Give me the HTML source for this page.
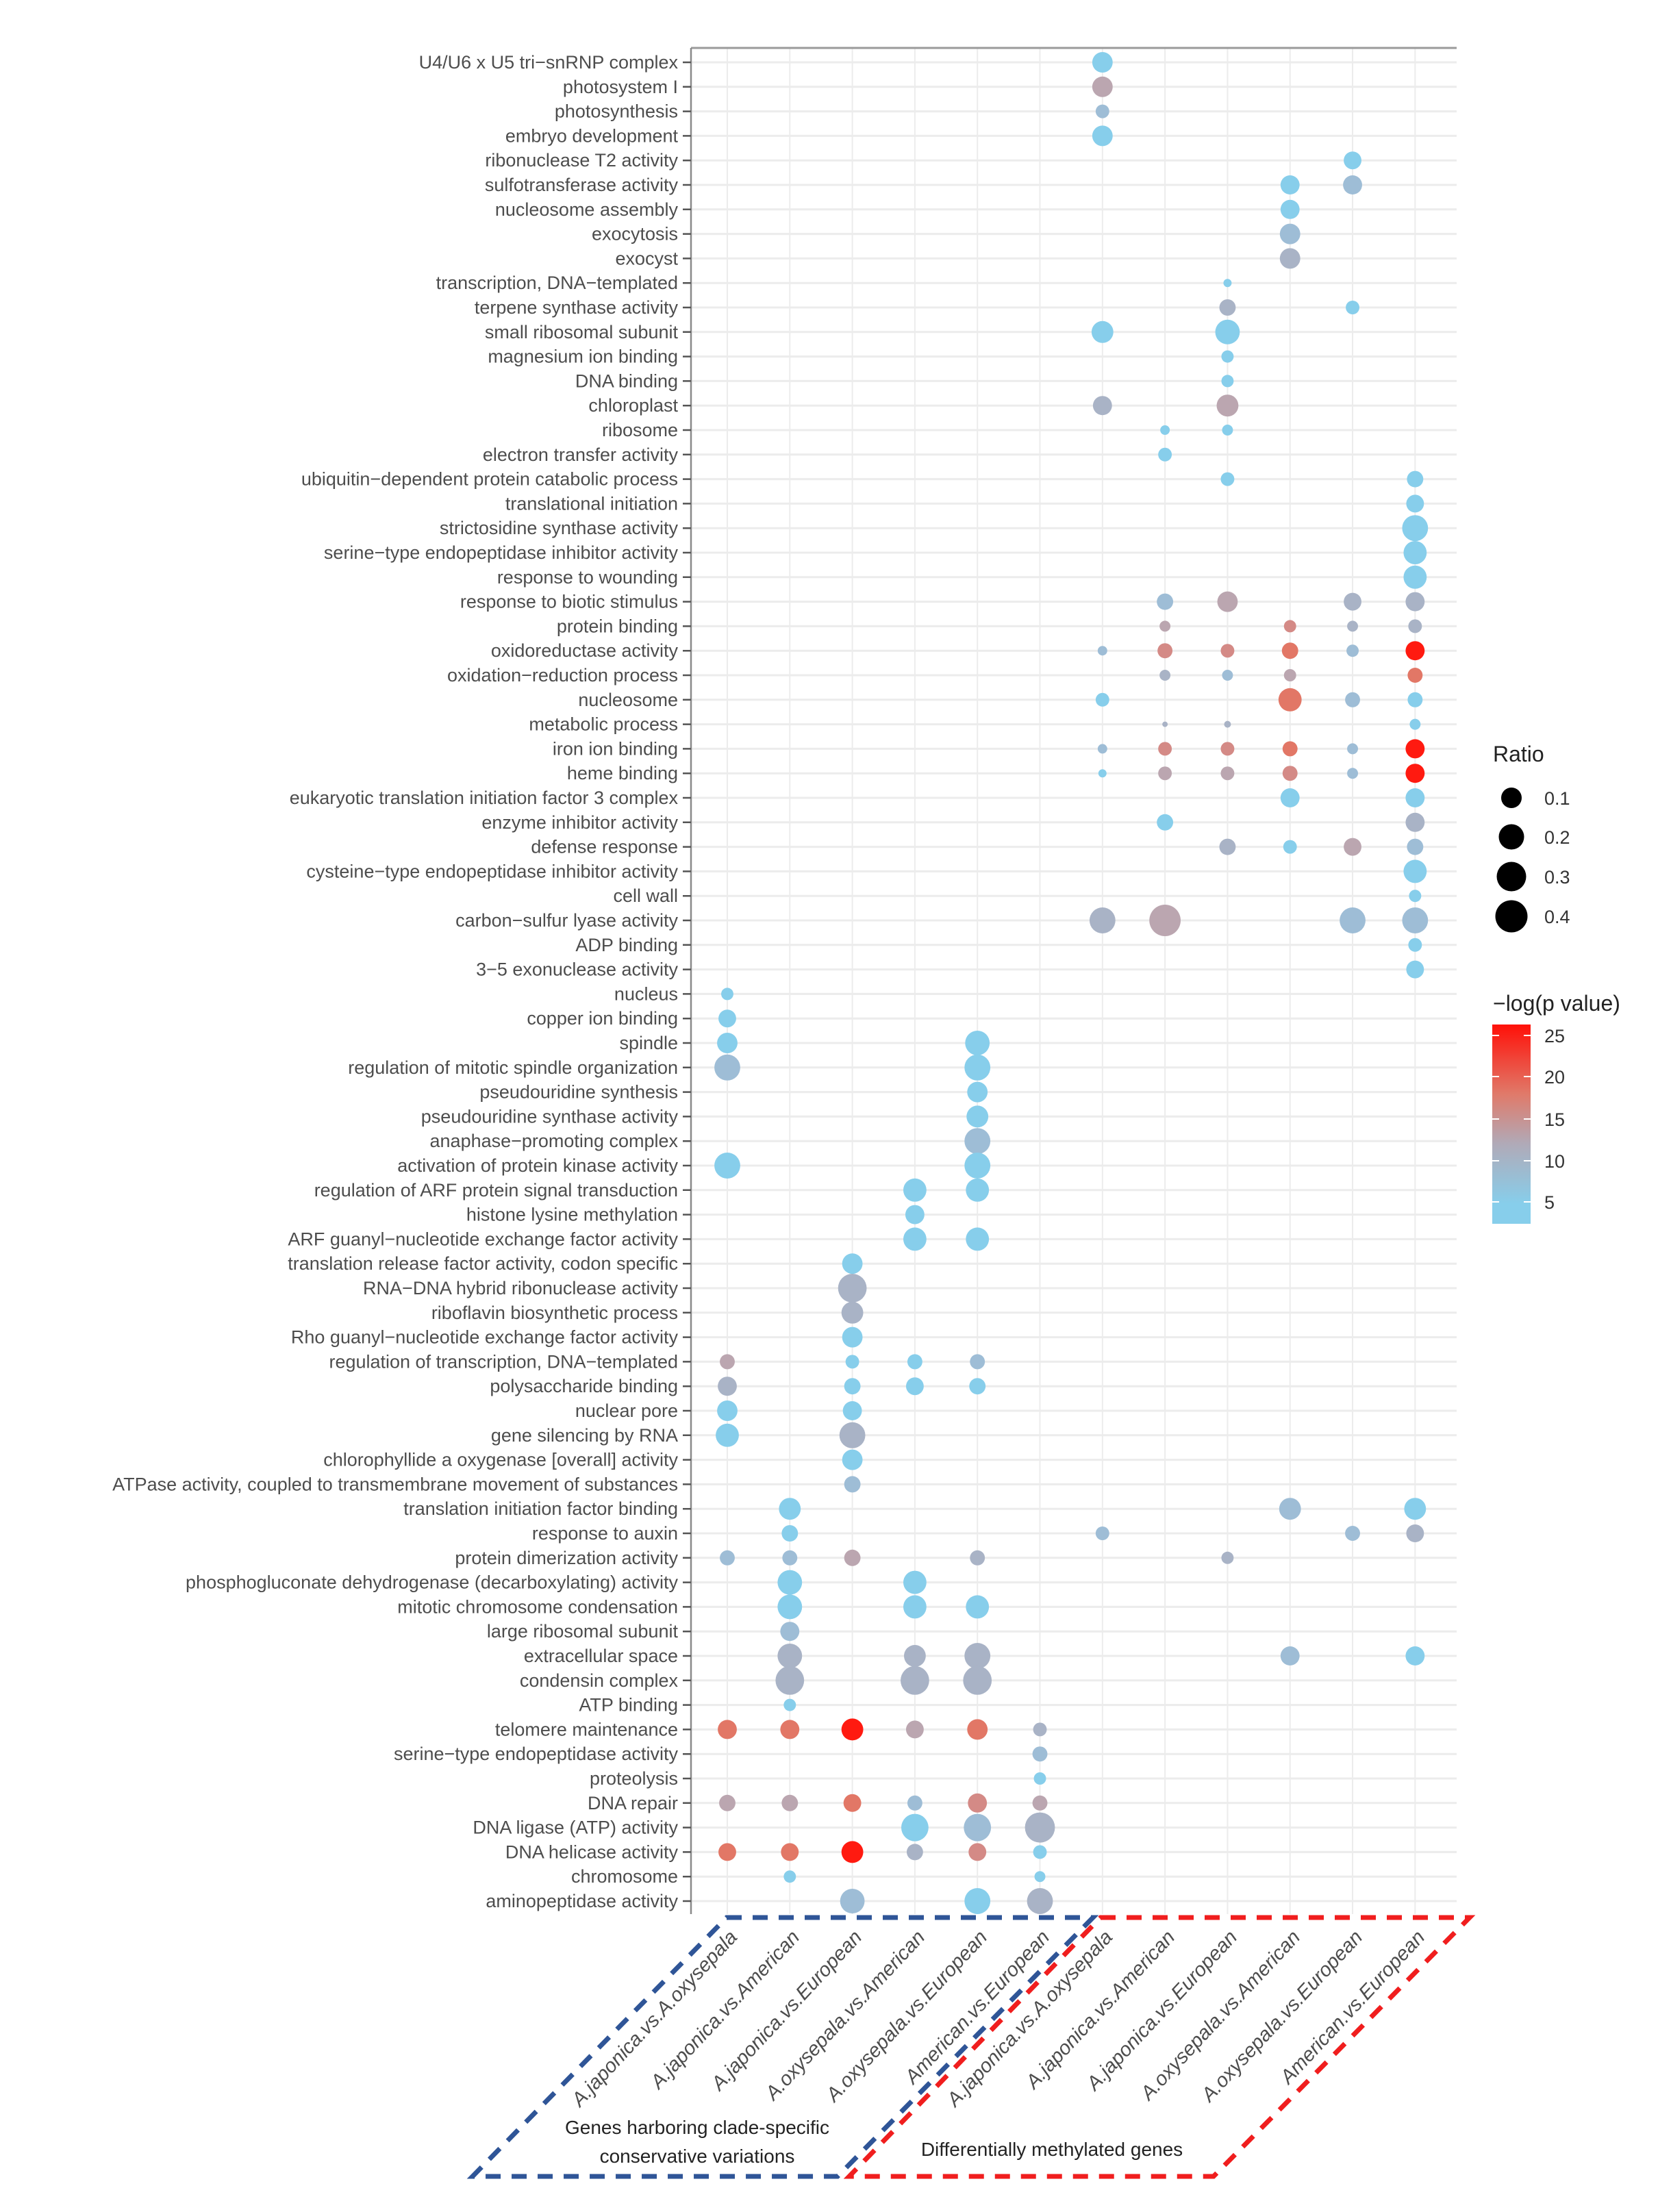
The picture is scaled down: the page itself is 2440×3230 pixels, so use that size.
<!DOCTYPE html>
<html><head><meta charset="utf-8"><style>
html,body{margin:0;padding:0;background:#fff;}
svg{display:block;}
.l{font-family:"Liberation Sans",sans-serif;font-size:27px;fill:#4d4d4d;text-anchor:end;dominant-baseline:central;}
.xl{font-family:"Liberation Sans",sans-serif;font-size:29px;fill:#4d4d4d;text-anchor:end;font-style:italic;}
.b{fill:#87ceeb}.g{fill:#9ebdd6}.k{fill:#a9b3c6}.m{fill:#bba6b0}.r{fill:#d48a86}.o{fill:#e27766}.R{fill:#ff1a10}
</style></head><body>
<svg width="2440" height="3230" viewBox="0 0 2440 3230" xmlns="http://www.w3.org/2000/svg">
<g stroke="#ececec" stroke-width="3">
<path d="M1009 91H2127M1009 126.8H2127M1009 162.6H2127M1009 198.4H2127M1009 234.2H2127M1009 270H2127M1009 305.8H2127M1009 341.6H2127M1009 377.4H2127M1009 413.2H2127M1009 449H2127M1009 484.8H2127M1009 520.6H2127M1009 556.4H2127M1009 592.2H2127M1009 628H2127M1009 663.8H2127M1009 699.6H2127M1009 735.4H2127M1009 771.2H2127M1009 807H2127M1009 842.8H2127M1009 878.6H2127M1009 914.4H2127M1009 950.2H2127M1009 986H2127M1009 1021.8H2127M1009 1057.6H2127M1009 1093.4H2127M1009 1129.2H2127M1009 1165H2127M1009 1200.8H2127M1009 1236.6H2127M1009 1272.4H2127M1009 1308.2H2127M1009 1344H2127M1009 1379.8H2127M1009 1415.6H2127M1009 1451.4H2127M1009 1487.2H2127M1009 1523H2127M1009 1558.8H2127M1009 1594.6H2127M1009 1630.4H2127M1009 1666.2H2127M1009 1702H2127M1009 1737.8H2127M1009 1773.6H2127M1009 1809.4H2127M1009 1845.2H2127M1009 1881H2127M1009 1916.8H2127M1009 1952.6H2127M1009 1988.4H2127M1009 2024.2H2127M1009 2060H2127M1009 2095.8H2127M1009 2131.6H2127M1009 2167.4H2127M1009 2203.2H2127M1009 2239H2127M1009 2274.8H2127M1009 2310.6H2127M1009 2346.4H2127M1009 2382.2H2127M1009 2418H2127M1009 2453.8H2127M1009 2489.6H2127M1009 2525.4H2127M1009 2561.2H2127M1009 2597H2127M1009 2632.8H2127M1009 2668.6H2127M1009 2704.4H2127M1009 2740.2H2127M1009 2776H2127"/>
</g>
<g stroke="#ececec" stroke-width="2" transform="translate(2.75,0) scale(0.9946,1)">
<line x1="1065" y1="70" x2="1065" y2="2795"/><line x1="1156.8" y1="70" x2="1156.8" y2="2795"/><line x1="1248.6" y1="70" x2="1248.6" y2="2795"/><line x1="1340.4" y1="70" x2="1340.4" y2="2795"/><line x1="1432.2" y1="70" x2="1432.2" y2="2795"/><line x1="1524" y1="70" x2="1524" y2="2795"/><line x1="1615.8" y1="70" x2="1615.8" y2="2795"/><line x1="1707.6" y1="70" x2="1707.6" y2="2795"/><line x1="1799.4" y1="70" x2="1799.4" y2="2795"/><line x1="1891.2" y1="70" x2="1891.2" y2="2795"/><line x1="1983" y1="70" x2="1983" y2="2795"/><line x1="2074.8" y1="70" x2="2074.8" y2="2795"/>
</g>
<line x1="1009" y1="70" x2="2127" y2="70" stroke="#9a9a9a" stroke-width="3"/>
<line x1="1009" y1="70" x2="1009" y2="2795" stroke="#8a8a8a" stroke-width="2.5"/>
<g class="l">
<text x="990" y="91">U4/U6 x U5 tri−snRNP complex</text>
<text x="990" y="126.8">photosystem I</text>
<text x="990" y="162.6">photosynthesis</text>
<text x="990" y="198.4">embryo development</text>
<text x="990" y="234.2">ribonuclease T2 activity</text>
<text x="990" y="270">sulfotransferase activity</text>
<text x="990" y="305.8">nucleosome assembly</text>
<text x="990" y="341.6">exocytosis</text>
<text x="990" y="377.4">exocyst</text>
<text x="990" y="413.2">transcription, DNA−templated</text>
<text x="990" y="449">terpene synthase activity</text>
<text x="990" y="484.8">small ribosomal subunit</text>
<text x="990" y="520.6">magnesium ion binding</text>
<text x="990" y="556.4">DNA binding</text>
<text x="990" y="592.2">chloroplast</text>
<text x="990" y="628">ribosome</text>
<text x="990" y="663.8">electron transfer activity</text>
<text x="990" y="699.6">ubiquitin−dependent protein catabolic process</text>
<text x="990" y="735.4">translational initiation</text>
<text x="990" y="771.2">strictosidine synthase activity</text>
<text x="990" y="807">serine−type endopeptidase inhibitor activity</text>
<text x="990" y="842.8">response to wounding</text>
<text x="990" y="878.6">response to biotic stimulus</text>
<text x="990" y="914.4">protein binding</text>
<text x="990" y="950.2">oxidoreductase activity</text>
<text x="990" y="986">oxidation−reduction process</text>
<text x="990" y="1021.8">nucleosome</text>
<text x="990" y="1057.6">metabolic process</text>
<text x="990" y="1093.4">iron ion binding</text>
<text x="990" y="1129.2">heme binding</text>
<text x="990" y="1165">eukaryotic translation initiation factor 3 complex</text>
<text x="990" y="1200.8">enzyme inhibitor activity</text>
<text x="990" y="1236.6">defense response</text>
<text x="990" y="1272.4">cysteine−type endopeptidase inhibitor activity</text>
<text x="990" y="1308.2">cell wall</text>
<text x="990" y="1344">carbon−sulfur lyase activity</text>
<text x="990" y="1379.8">ADP binding</text>
<text x="990" y="1415.6">3−5 exonuclease activity</text>
<text x="990" y="1451.4">nucleus</text>
<text x="990" y="1487.2">copper ion binding</text>
<text x="990" y="1523">spindle</text>
<text x="990" y="1558.8">regulation of mitotic spindle organization</text>
<text x="990" y="1594.6">pseudouridine synthesis</text>
<text x="990" y="1630.4">pseudouridine synthase activity</text>
<text x="990" y="1666.2">anaphase−promoting complex</text>
<text x="990" y="1702">activation of protein kinase activity</text>
<text x="990" y="1737.8">regulation of ARF protein signal transduction</text>
<text x="990" y="1773.6">histone lysine methylation</text>
<text x="990" y="1809.4">ARF guanyl−nucleotide exchange factor activity</text>
<text x="990" y="1845.2">translation release factor activity, codon specific</text>
<text x="990" y="1881">RNA−DNA hybrid ribonuclease activity</text>
<text x="990" y="1916.8">riboflavin biosynthetic process</text>
<text x="990" y="1952.6">Rho guanyl−nucleotide exchange factor activity</text>
<text x="990" y="1988.4">regulation of transcription, DNA−templated</text>
<text x="990" y="2024.2">polysaccharide binding</text>
<text x="990" y="2060">nuclear pore</text>
<text x="990" y="2095.8">gene silencing by RNA</text>
<text x="990" y="2131.6">chlorophyllide a oxygenase [overall] activity</text>
<text x="990" y="2167.4">ATPase activity, coupled to transmembrane movement of substances</text>
<text x="990" y="2203.2">translation initiation factor binding</text>
<text x="990" y="2239">response to auxin</text>
<text x="990" y="2274.8">protein dimerization activity</text>
<text x="990" y="2310.6">phosphogluconate dehydrogenase (decarboxylating) activity</text>
<text x="990" y="2346.4">mitotic chromosome condensation</text>
<text x="990" y="2382.2">large ribosomal subunit</text>
<text x="990" y="2418">extracellular space</text>
<text x="990" y="2453.8">condensin complex</text>
<text x="990" y="2489.6">ATP binding</text>
<text x="990" y="2525.4">telomere maintenance</text>
<text x="990" y="2561.2">serine−type endopeptidase activity</text>
<text x="990" y="2597">proteolysis</text>
<text x="990" y="2632.8">DNA repair</text>
<text x="990" y="2668.6">DNA ligase (ATP) activity</text>
<text x="990" y="2704.4">DNA helicase activity</text>
<text x="990" y="2740.2">chromosome</text>
<text x="990" y="2776">aminopeptidase activity</text>
</g>
<g transform="translate(2.75,0) scale(0.9946,1)">
<circle class="b" cx="1615.8" cy="91" r="15"/>
<circle class="m" cx="1615.8" cy="126.8" r="15"/>
<circle class="g" cx="1615.8" cy="162.6" r="10"/>
<circle class="b" cx="1615.8" cy="198.4" r="15"/>
<circle class="b" cx="1983" cy="234.2" r="13"/>
<circle class="b" cx="1891.2" cy="270" r="14"/><circle class="g" cx="1983" cy="270" r="14"/>
<circle class="b" cx="1891.2" cy="305.8" r="14"/>
<circle class="g" cx="1891.2" cy="341.6" r="15"/>
<circle class="k" cx="1891.2" cy="377.4" r="15"/>
<circle class="b" cx="1799.4" cy="413.2" r="6"/>
<circle class="k" cx="1799.4" cy="449" r="12"/><circle class="b" cx="1983" cy="449" r="10"/>
<circle class="b" cx="1615.8" cy="484.8" r="16"/><circle class="b" cx="1799.4" cy="484.8" r="18"/>
<circle class="b" cx="1799.4" cy="520.6" r="9"/>
<circle class="b" cx="1799.4" cy="556.4" r="9"/>
<circle class="k" cx="1615.8" cy="592.2" r="14"/><circle class="m" cx="1799.4" cy="592.2" r="16"/>
<circle class="b" cx="1707.6" cy="628" r="7"/><circle class="b" cx="1799.4" cy="628" r="8"/>
<circle class="b" cx="1707.6" cy="663.8" r="10"/>
<circle class="b" cx="1799.4" cy="699.6" r="10"/><circle class="b" cx="2074.8" cy="699.6" r="12"/>
<circle class="b" cx="2074.8" cy="735.4" r="13"/>
<circle class="b" cx="2074.8" cy="771.2" r="19"/>
<circle class="b" cx="2074.8" cy="807" r="17"/>
<circle class="b" cx="2074.8" cy="842.8" r="17"/>
<circle class="g" cx="1707.6" cy="878.6" r="12"/><circle class="m" cx="1799.4" cy="878.6" r="15"/><circle class="k" cx="1983" cy="878.6" r="13"/><circle class="k" cx="2074.8" cy="878.6" r="14"/>
<circle class="m" cx="1707.6" cy="914.4" r="8"/><circle class="r" cx="1891.2" cy="914.4" r="9"/><circle class="k" cx="1983" cy="914.4" r="8"/><circle class="k" cx="2074.8" cy="914.4" r="10"/>
<circle class="g" cx="1615.8" cy="950.2" r="7"/><circle class="r" cx="1707.6" cy="950.2" r="11"/><circle class="r" cx="1799.4" cy="950.2" r="10"/><circle class="o" cx="1891.2" cy="950.2" r="12"/><circle class="g" cx="1983" cy="950.2" r="9"/><circle class="R" cx="2074.8" cy="950.2" r="14"/>
<circle class="k" cx="1707.6" cy="986" r="8"/><circle class="g" cx="1799.4" cy="986" r="8"/><circle class="m" cx="1891.2" cy="986" r="9"/><circle class="o" cx="2074.8" cy="986" r="11"/>
<circle class="b" cx="1615.8" cy="1021.8" r="10"/><circle class="o" cx="1891.2" cy="1021.8" r="17"/><circle class="g" cx="1983" cy="1021.8" r="11"/><circle class="b" cx="2074.8" cy="1021.8" r="11"/>
<circle class="k" cx="1707.6" cy="1057.6" r="4"/><circle class="k" cx="1799.4" cy="1057.6" r="5"/><circle class="b" cx="2074.8" cy="1057.6" r="8"/>
<circle class="g" cx="1615.8" cy="1093.4" r="7"/><circle class="r" cx="1707.6" cy="1093.4" r="10"/><circle class="r" cx="1799.4" cy="1093.4" r="10"/><circle class="o" cx="1891.2" cy="1093.4" r="11"/><circle class="g" cx="1983" cy="1093.4" r="8"/><circle class="R" cx="2074.8" cy="1093.4" r="14"/>
<circle class="b" cx="1615.8" cy="1129.2" r="6"/><circle class="m" cx="1707.6" cy="1129.2" r="10"/><circle class="m" cx="1799.4" cy="1129.2" r="10"/><circle class="r" cx="1891.2" cy="1129.2" r="11"/><circle class="g" cx="1983" cy="1129.2" r="8"/><circle class="R" cx="2074.8" cy="1129.2" r="14"/>
<circle class="b" cx="1891.2" cy="1165" r="14"/><circle class="b" cx="2074.8" cy="1165" r="14"/>
<circle class="b" cx="1707.6" cy="1200.8" r="12"/><circle class="k" cx="2074.8" cy="1200.8" r="14"/>
<circle class="k" cx="1799.4" cy="1236.6" r="12"/><circle class="b" cx="1891.2" cy="1236.6" r="10"/><circle class="m" cx="1983" cy="1236.6" r="13"/><circle class="g" cx="2074.8" cy="1236.6" r="12"/>
<circle class="b" cx="2074.8" cy="1272.4" r="17"/>
<circle class="b" cx="2074.8" cy="1308.2" r="9"/>
<circle class="k" cx="1615.8" cy="1344" r="19"/><circle class="m" cx="1707.6" cy="1344" r="23"/><circle class="g" cx="1983" cy="1344" r="19"/><circle class="g" cx="2074.8" cy="1344" r="19"/>
<circle class="b" cx="2074.8" cy="1379.8" r="10"/>
<circle class="b" cx="2074.8" cy="1415.6" r="13"/>
<circle class="b" cx="1065" cy="1451.4" r="9"/>
<circle class="b" cx="1065" cy="1487.2" r="13"/>
<circle class="b" cx="1065" cy="1523" r="15"/><circle class="b" cx="1432.2" cy="1523" r="18"/>
<circle class="g" cx="1065" cy="1558.8" r="19"/><circle class="b" cx="1432.2" cy="1558.8" r="19"/>
<circle class="b" cx="1432.2" cy="1594.6" r="15"/>
<circle class="b" cx="1432.2" cy="1630.4" r="16"/>
<circle class="g" cx="1432.2" cy="1666.2" r="19"/>
<circle class="b" cx="1065" cy="1702" r="19"/><circle class="b" cx="1432.2" cy="1702" r="19"/>
<circle class="b" cx="1340.4" cy="1737.8" r="17"/><circle class="b" cx="1432.2" cy="1737.8" r="17"/>
<circle class="b" cx="1340.4" cy="1773.6" r="14"/>
<circle class="b" cx="1340.4" cy="1809.4" r="17"/><circle class="b" cx="1432.2" cy="1809.4" r="17"/>
<circle class="b" cx="1248.6" cy="1845.2" r="15"/>
<circle class="k" cx="1248.6" cy="1881" r="21"/>
<circle class="k" cx="1248.6" cy="1916.8" r="16"/>
<circle class="b" cx="1248.6" cy="1952.6" r="15"/>
<circle class="m" cx="1065" cy="1988.4" r="11"/><circle class="b" cx="1248.6" cy="1988.4" r="10"/><circle class="b" cx="1340.4" cy="1988.4" r="11"/><circle class="g" cx="1432.2" cy="1988.4" r="11"/>
<circle class="k" cx="1065" cy="2024.2" r="14"/><circle class="b" cx="1248.6" cy="2024.2" r="12"/><circle class="b" cx="1340.4" cy="2024.2" r="13"/><circle class="b" cx="1432.2" cy="2024.2" r="12"/>
<circle class="b" cx="1065" cy="2060" r="15"/><circle class="b" cx="1248.6" cy="2060" r="14"/>
<circle class="b" cx="1065" cy="2095.8" r="17"/><circle class="k" cx="1248.6" cy="2095.8" r="19"/>
<circle class="b" cx="1248.6" cy="2131.6" r="15"/>
<circle class="g" cx="1248.6" cy="2167.4" r="12"/>
<circle class="b" cx="1156.8" cy="2203.2" r="16"/><circle class="g" cx="1891.2" cy="2203.2" r="16"/><circle class="b" cx="2074.8" cy="2203.2" r="16"/>
<circle class="b" cx="1156.8" cy="2239" r="12"/><circle class="g" cx="1615.8" cy="2239" r="10"/><circle class="g" cx="1983" cy="2239" r="11"/><circle class="k" cx="2074.8" cy="2239" r="13"/>
<circle class="g" cx="1065" cy="2274.8" r="11"/><circle class="g" cx="1156.8" cy="2274.8" r="11"/><circle class="m" cx="1248.6" cy="2274.8" r="12"/><circle class="k" cx="1432.2" cy="2274.8" r="11"/><circle class="k" cx="1799.4" cy="2274.8" r="9"/>
<circle class="b" cx="1156.8" cy="2310.6" r="18"/><circle class="b" cx="1340.4" cy="2310.6" r="17"/>
<circle class="b" cx="1156.8" cy="2346.4" r="18"/><circle class="b" cx="1340.4" cy="2346.4" r="17"/><circle class="b" cx="1432.2" cy="2346.4" r="17"/>
<circle class="g" cx="1156.8" cy="2382.2" r="14"/>
<circle class="k" cx="1156.8" cy="2418" r="18"/><circle class="k" cx="1340.4" cy="2418" r="16"/><circle class="k" cx="1432.2" cy="2418" r="19"/><circle class="g" cx="1891.2" cy="2418" r="14"/><circle class="b" cx="2074.8" cy="2418" r="14"/>
<circle class="k" cx="1156.8" cy="2453.8" r="21"/><circle class="k" cx="1340.4" cy="2453.8" r="21"/><circle class="k" cx="1432.2" cy="2453.8" r="21"/>
<circle class="b" cx="1156.8" cy="2489.6" r="9"/>
<circle class="o" cx="1065" cy="2525.4" r="14"/><circle class="o" cx="1156.8" cy="2525.4" r="14"/><circle class="R" cx="1248.6" cy="2525.4" r="16"/><circle class="m" cx="1340.4" cy="2525.4" r="13"/><circle class="o" cx="1432.2" cy="2525.4" r="15"/><circle class="k" cx="1524" cy="2525.4" r="10"/>
<circle class="g" cx="1524" cy="2561.2" r="11"/>
<circle class="b" cx="1524" cy="2597" r="9"/>
<circle class="m" cx="1065" cy="2632.8" r="12"/><circle class="m" cx="1156.8" cy="2632.8" r="12"/><circle class="o" cx="1248.6" cy="2632.8" r="13"/><circle class="g" cx="1340.4" cy="2632.8" r="11"/><circle class="r" cx="1432.2" cy="2632.8" r="14"/><circle class="m" cx="1524" cy="2632.8" r="11"/>
<circle class="b" cx="1340.4" cy="2668.6" r="20"/><circle class="g" cx="1432.2" cy="2668.6" r="20"/><circle class="k" cx="1524" cy="2668.6" r="22"/>
<circle class="o" cx="1065" cy="2704.4" r="13"/><circle class="o" cx="1156.8" cy="2704.4" r="13"/><circle class="R" cx="1248.6" cy="2704.4" r="16"/><circle class="k" cx="1340.4" cy="2704.4" r="12"/><circle class="r" cx="1432.2" cy="2704.4" r="13"/><circle class="b" cx="1524" cy="2704.4" r="10"/>
<circle class="b" cx="1156.8" cy="2740.2" r="9"/><circle class="b" cx="1524" cy="2740.2" r="8"/>
<circle class="g" cx="1248.6" cy="2776" r="18"/><circle class="b" cx="1432.2" cy="2776" r="19"/><circle class="k" cx="1524" cy="2776" r="19"/>
</g>
<g stroke="#555" stroke-width="2.5">
<path d="M997 91h12M997 126.8h12M997 162.6h12M997 198.4h12M997 234.2h12M997 270h12M997 305.8h12M997 341.6h12M997 377.4h12M997 413.2h12M997 449h12M997 484.8h12M997 520.6h12M997 556.4h12M997 592.2h12M997 628h12M997 663.8h12M997 699.6h12M997 735.4h12M997 771.2h12M997 807h12M997 842.8h12M997 878.6h12M997 914.4h12M997 950.2h12M997 986h12M997 1021.8h12M997 1057.6h12M997 1093.4h12M997 1129.2h12M997 1165h12M997 1200.8h12M997 1236.6h12M997 1272.4h12M997 1308.2h12M997 1344h12M997 1379.8h12M997 1415.6h12M997 1451.4h12M997 1487.2h12M997 1523h12M997 1558.8h12M997 1594.6h12M997 1630.4h12M997 1666.2h12M997 1702h12M997 1737.8h12M997 1773.6h12M997 1809.4h12M997 1845.2h12M997 1881h12M997 1916.8h12M997 1952.6h12M997 1988.4h12M997 2024.2h12M997 2060h12M997 2095.8h12M997 2131.6h12M997 2167.4h12M997 2203.2h12M997 2239h12M997 2274.8h12M997 2310.6h12M997 2346.4h12M997 2382.2h12M997 2418h12M997 2453.8h12M997 2489.6h12M997 2525.4h12M997 2561.2h12M997 2597h12M997 2632.8h12M997 2668.6h12M997 2704.4h12M997 2740.2h12M997 2776h12"/>
</g>
<g class="xl">
<text transform="translate(1078,2830) rotate(-47)">A.japonica.vs.A.oxysepala</text>
<text transform="translate(1169,2830) rotate(-47)">A.japonica.vs.American</text>
<text transform="translate(1260,2830) rotate(-47)">A.japonica.vs.European</text>
<text transform="translate(1352,2830) rotate(-47)">A.oxysepala.vs.American</text>
<text transform="translate(1443,2830) rotate(-47)">A.oxysepala.vs.European</text>
<text transform="translate(1534,2830) rotate(-47)">American.vs.European</text>
<text transform="translate(1626,2830) rotate(-47)">A.japonica.vs.A.oxysepala</text>
<text transform="translate(1717,2830) rotate(-47)">A.japonica.vs.American</text>
<text transform="translate(1808,2830) rotate(-47)">A.japonica.vs.European</text>
<text transform="translate(1900,2830) rotate(-47)">A.oxysepala.vs.American</text>
<text transform="translate(1991,2830) rotate(-47)">A.oxysepala.vs.European</text>
<text transform="translate(2082,2830) rotate(-47)">American.vs.European</text>
</g>
<polygon points="1061,2800 1596,2800 1223,3178 690,3178" fill="none" stroke="#2f5597" stroke-width="7" stroke-dasharray="22,16"/>
<polygon points="1607,2800 2146,2800 1772,3178 1240,3178" fill="none" stroke="#f01e1e" stroke-width="7" stroke-dasharray="22,16"/>
<g font-family="Liberation Sans, sans-serif" font-size="28" fill="#222" text-anchor="middle">
<text x="1018" y="3116">Genes harboring clade-specific</text>
<text x="1018" y="3158">conservative variations</text>
<text x="1536" y="3148">Differentially methylated genes</text>
</g>
<g font-family="Liberation Sans, sans-serif" fill="#222">
<text x="2180" y="1112" font-size="32">Ratio</text>
<circle cx="2207" cy="1165" r="15" fill="#000"/>
<circle cx="2207" cy="1222" r="18.5" fill="#000"/>
<circle cx="2207" cy="1280" r="21.5" fill="#000"/>
<circle cx="2207" cy="1338" r="23.5" fill="#000"/>
<g font-size="27" fill="#333"><text x="2255" y="1175">0.1</text><text x="2255" y="1232">0.2</text><text x="2255" y="1290">0.3</text><text x="2255" y="1348">0.4</text></g>
<text x="2180" y="1476" font-size="32">−log(p value)</text>
<defs><linearGradient id="cg" x1="0" y1="1" x2="0" y2="0">
<stop offset="0" stop-color="#87ceeb"/><stop offset="0.1" stop-color="#87ceeb"/><stop offset="0.4" stop-color="#b0aab8"/><stop offset="0.65" stop-color="#e07a6a"/><stop offset="1" stop-color="#ff1008"/></linearGradient></defs>
<rect x="2179" y="1496" width="56" height="291" fill="url(#cg)"/>
<g stroke="#fff" stroke-width="2"><path d="M2179 1512h10M2225 1512h10M2179 1572h10M2225 1572h10M2179 1634h10M2225 1634h10M2179 1695h10M2225 1695h10M2179 1755h10M2225 1755h10"/></g>
<g font-size="27" fill="#333"><text x="2255" y="1522">25</text><text x="2255" y="1582">20</text><text x="2255" y="1644">15</text><text x="2255" y="1705">10</text><text x="2255" y="1765">5</text></g>
</g>
</svg>
</body></html>
